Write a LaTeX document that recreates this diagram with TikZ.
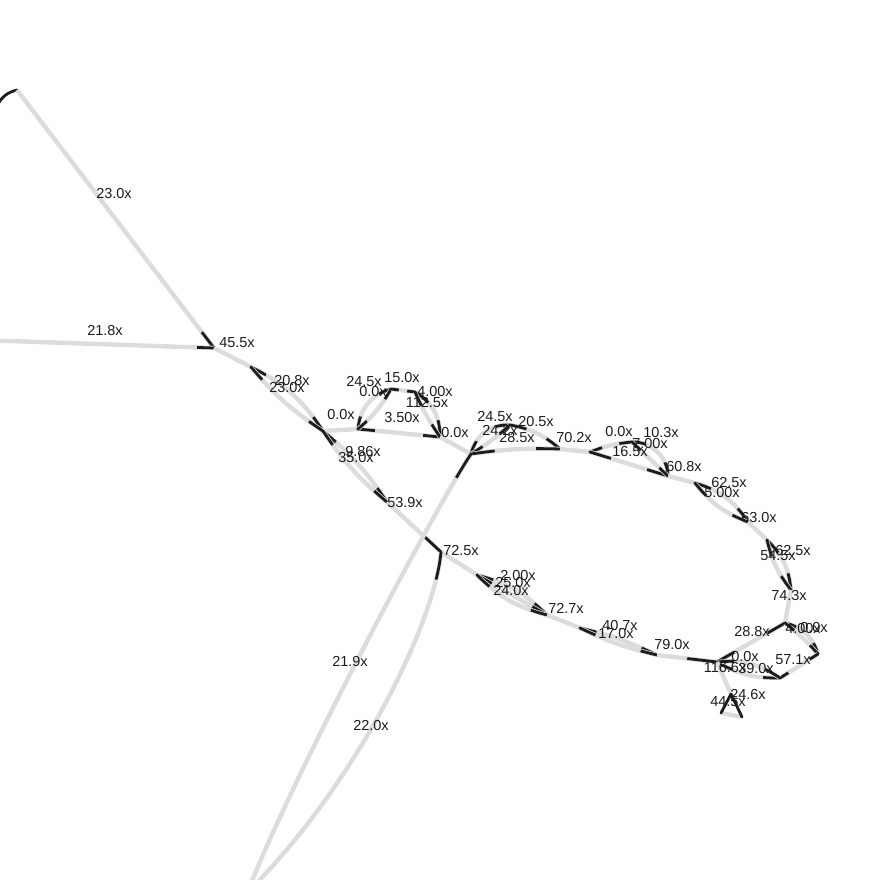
\documentclass[tikz,border=0pt]{standalone}
\usepackage{fontspec}
\setmainfont{Liberation Sans}
\usepackage{xcolor}
\definecolor{ink}{HTML}{1C1C1C}
\definecolor{edgegray}{HTML}{DCDCDC}
\tikzstyle{bare} = [draw=edgegray, line width=4.4pt]
\tikzstyle{inkline} = [draw=ink, line width=2.8pt, line cap=round]
\tikzstyle{cov} = [font=\fontsize{14.5}{15}\selectfont, text=ink, inner sep=0pt]
% gray edge, black at both ends
\newcommand{\linkboth}[4][17pt]{%
    \draw[bare] (#2) #3 (#4);
    \begin{scope}
        \clip (#2) circle (#1) (#4) circle (#1);
        \draw[inkline] (#2) #3 (#4);
    \end{scope}}
% gray edge, black at the far end only
\newcommand{\linkend}[4][17pt]{%
    \draw[bare] (#2) #3 (#4);
    \begin{scope}
        \clip (#4) circle (#1);
        \draw[inkline] (#2) #3 (#4);
    \end{scope}}

\begin{document}
\begin{tikzpicture}[x=1pt, y=-1pt]
    \useasboundingbox (0,0) rectangle (889,880);
    % junctions
    \coordinate (a0) at (-3,106);
    \coordinate (a1) at (17,90);
    \coordinate (b0) at (-20,340);
    \coordinate (j1) at (214,348);
    \coordinate (j2) at (251,367);
    \coordinate (j3) at (323,431);
    \coordinate (j4) at (358,429);
    \coordinate (j5) at (440,437);
    \coordinate (j6) at (391,389);
    \coordinate (j7) at (415,392);
    \coordinate (j8) at (471,454);
    \coordinate (j9) at (510,425);
    \coordinate (j10) at (560,449);
    \coordinate (j11) at (590,452);
    \coordinate (j12) at (632,442);
    \coordinate (j13) at (668,476);
    \coordinate (j14) at (695,483);
    \coordinate (j15) at (748,522);
    \coordinate (j16) at (767,540);
    \coordinate (j17) at (791,590);
    \coordinate (j18) at (785,623);
    \coordinate (j19) at (717,662);
    \coordinate (j20) at (818,654);
    \coordinate (j21) at (780,678);
    \coordinate (j22) at (731,694);
    \coordinate (j23) at (721,713);
    \coordinate (j24) at (742,717);
    \coordinate (k1) at (387,502);
    \coordinate (k2) at (441,552);
    \coordinate (k3) at (477,575);
    \coordinate (k4) at (547,615);
    \coordinate (k5) at (580,628);
    \coordinate (k6) at (657,655);
    \coordinate (bot) at (247,893);

    % edges
    \draw[inkline] (a1) to[bend right=25] (a0);
    \linkend[20pt]{a1}{--}{j1}
    \linkend{b0}{--}{j1}
    \draw[bare] (j1) -- (j2);
    \linkboth{j2}{to[bend left=15]}{j3}
    \linkboth{j2}{to[bend right=8]}{j3}
    \draw[bare] (j3) -- (j4);
    \linkboth{j4}{--}{j5}
    \linkboth[13pt]{j4}{to[bend left=35]}{j6}
    \linkboth[12pt]{j4}{to[bend right=10]}{j6}
    \linkboth[8pt]{j6}{--}{j7}
    \linkboth{j7}{to[bend left=30]}{j5}
    \linkboth[15pt]{j7}{to[bend right=5]}{j5}
    \draw[bare] (j5) -- (j8);
    \linkboth{j3}{to[bend left=8]}{k1}
    \linkboth{j3}{to[bend right=8]}{k1}
    \linkend[22pt]{k1}{--}{k2}
    \draw[bare] (k2) -- (k3);
    \linkboth{k3}{to[bend left=15]}{k4}
    \linkboth{k3}{--}{k4}
    \linkboth{k3}{to[bend right=15]}{k4}
    \draw[bare] (k4) -- (k5);
    \linkboth{k5}{to[bend left=6]}{k6}
    \linkboth{k5}{to[bend right=6]}{k6}
    \linkend[30pt]{k6}{--}{j19}
    \linkboth[14pt]{j8}{to[bend left=40]}{j9}
    \linkboth[14pt]{j8}{to[bend right=5]}{j9}
    \linkboth{j9}{to[bend left=15]}{j10}
    \linkboth[24pt]{j8}{to[bend left=5]}{j10}
    \draw[bare] (j10) -- (j11);
    \linkboth[13pt]{j11}{to[bend left=8]}{j12}
    \linkboth[22pt]{j11}{--}{j13}
    \linkboth[14pt]{j12}{to[bend left=45]}{j13}
    \linkboth[12pt]{j12}{--}{j13}
    \draw[bare] (j13) -- (j14);
    \linkboth{j14}{to[bend left=20]}{j15}
    \linkboth{j14}{to[bend right=15]}{j15}
    \draw[bare] (j15) -- (j16);
    \linkboth{j16}{to[bend left=20]}{j17}
    \linkboth{j16}{to[bend right=12]}{j17}
    \draw[bare] (j17) -- (j18);
    \linkboth[20pt]{j18}{--}{j19}
    \linkboth[12pt]{j18}{to[bend left=30]}{j20}
    \linkboth[12pt]{j18}{to[bend left=5]}{j20}
    \linkboth[10pt]{j20}{--}{j21}
    \linkboth{j21}{to[bend left=15]}{j19}
    \linkboth{j19}{to[bend left=20]}{j21}
    \draw[bare] (j19) -- (j22);
    \draw[bare] (j23) -- (j24);
    \draw[inkline] (j22) -- (j23);
    \draw[inkline] (j22) -- (j24);
    \linkend[28pt]{bot}{.. controls (360,780) and (435,620) ..}{k2}
    \linkend[28pt]{bot}{.. controls (300,760) and (440,500) ..}{j8}

    % coverage labels
    \node[cov] (w1) at (114,194) {23.0x};
    \node[cov] (w2) at (105,331) {21.8x};
    \node[cov] (w3) at (237,343) {45.5x};
    \node[cov] (w4) at (292,381) {20.8x};
    \node[cov] (w5) at (287,388) {23.0x};
    \node[cov] (w6) at (364,382) {24.5x};
    \node[cov] (w7) at (402,378) {15.0x};
    \node[cov] (w8) at (373,392) {0.0x};
    \node[cov] (w9) at (435,392) {4.00x};
    \node[cov] (w10) at (427,403) {112.5x};
    \node[cov] (w11) at (341,415) {0.0x};
    \node[cov] (w12) at (402,418) {3.50x};
    \node[cov] (w13) at (455,433) {0.0x};
    \node[cov] (w14) at (363,452) {9.86x};
    \node[cov] (w15) at (356,458) {35.0x};
    \node[cov] (w16) at (405,503) {53.9x};
    \node[cov] (w17) at (461,551) {72.5x};
    \node[cov] (w18) at (518,576) {2.00x};
    \node[cov] (w19) at (513,583) {25.0x};
    \node[cov] (w20) at (511,591) {24.0x};
    \node[cov] (w21) at (566,608) {72.7x};
    \node[cov] (w22) at (620,626) {40.7x};
    \node[cov] (w23) at (616,634) {17.0x};
    \node[cov] (w24) at (672,645) {79.0x};
    \node[cov] (w25) at (350,662) {21.9x};
    \node[cov] (w26) at (371,726) {22.0x};
    \node[cov] (w27) at (495,417) {24.5x};
    \node[cov] (w28) at (500,430) {24.2x};
    \node[cov] (w29) at (536,422) {20.5x};
    \node[cov] (w30) at (517,438) {28.5x};
    \node[cov] (w31) at (574,438) {70.2x};
    \node[cov] (w32) at (619,432) {0.0x};
    \node[cov] (w33) at (661,433) {10.3x};
    \node[cov] (w34) at (650,444) {7.00x};
    \node[cov] (w35) at (630,452) {16.5x};
    \node[cov] (w36) at (684,467) {60.8x};
    \node[cov] (w37) at (729,483) {62.5x};
    \node[cov] (w38) at (722,493) {5.00x};
    \node[cov] (w39) at (759,518) {63.0x};
    \node[cov] (w40) at (793,551) {62.5x};
    \node[cov] (w41) at (778,556) {54.5x};
    \node[cov] (w42) at (789,596) {74.3x};
    \node[cov] (w43) at (752,632) {28.8x};
    \node[cov] (w44) at (803,629) {4.00x};
    \node[cov] (w45) at (814,628) {0.0x};
    \node[cov] (w46) at (745,657) {0.0x};
    \node[cov] (w47) at (793,660) {57.1x};
    \node[cov] (w48) at (725,668) {116.6x};
    \node[cov] (w49) at (756,669) {39.0x};
    \node[cov] (w50) at (728,702) {44.5x};
    \node[cov] (w51) at (748,695) {24.6x};
\end{tikzpicture}
\end{document}
